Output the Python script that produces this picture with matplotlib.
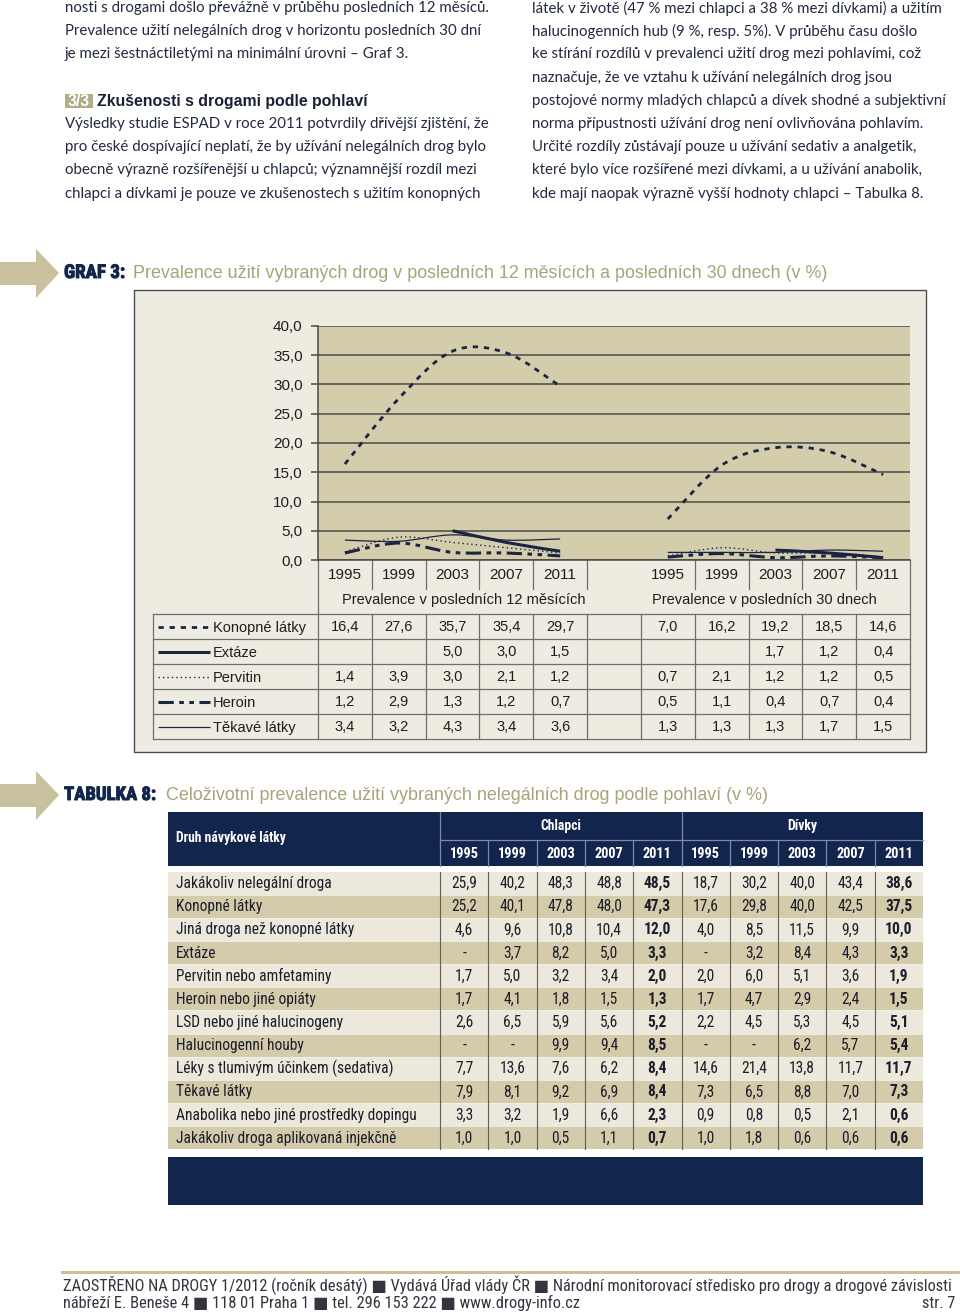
import numpy as np
import matplotlib
matplotlib.use('Agg')
import matplotlib.pyplot as plt
import matplotlib.patheffects as pe
from matplotlib.patches import Rectangle, Polygon, PathPatch
from matplotlib.path import Path
from matplotlib import font_manager
from matplotlib.ticker import FuncFormatter, FixedLocator

# ---------------- data: Graf 3 ----------------
years = ['1995', '1999', '2003', '2007', '2011']
period_labels = ['Prevalence v posledních 12 měsících', 'Prevalence v posledních 30 dnech']
drug_names = ['Konopné látky', 'Extáze', 'Pervitin', 'Heroin', 'Těkavé látky']
nan = np.nan
konopne_12m = [16.4, 27.6, 35.7, 35.4, 29.7]
extaze_12m = [nan, nan, 5.0, 3.0, 1.5]
pervitin_12m = [1.4, 3.9, 3.0, 2.1, 1.2]
heroin_12m = [1.2, 2.9, 1.3, 1.2, 0.7]
tekave_12m = [3.4, 3.2, 4.3, 3.4, 3.6]
konopne_30d = [7.0, 16.2, 19.2, 18.5, 14.6]
extaze_30d = [nan, nan, 1.7, 1.2, 0.4]
pervitin_30d = [0.7, 2.1, 1.2, 1.2, 0.5]
heroin_30d = [0.5, 1.1, 0.4, 0.7, 0.4]
tekave_30d = [1.3, 1.3, 1.3, 1.7, 1.5]
y_ticks = [0, 5, 10, 15, 20, 25, 30, 35, 40]

# ---------------- data: Tabulka 8 ----------------
t8_groups = ['Chlapci', 'Dívky']
t8_substances = ['Jakákoliv nelegální droga', 'Konopné látky', 'Jiná droga než konopné látky',
                 'Extáze', 'Pervitin nebo amfetaminy', 'Heroin nebo jiné opiáty',
                 'LSD nebo jiné halucinogeny', 'Halucinogenní houby',
                 'Léky s tlumivým účinkem (sedativa)', 'Těkavé látky',
                 'Anabolika nebo jiné prostředky dopingu', 'Jakákoliv droga aplikovaná injekčně']
t8_boys = [[25.9, 40.2, 48.3, 48.8, 48.5], [25.2, 40.1, 47.8, 48.0, 47.3],
           [4.6, 9.6, 10.8, 10.4, 12.0], [None, 3.7, 8.2, 5.0, 3.3],
           [1.7, 5.0, 3.2, 3.4, 2.0], [1.7, 4.1, 1.8, 1.5, 1.3],
           [2.6, 6.5, 5.9, 5.6, 5.2], [None, None, 9.9, 9.4, 8.5],
           [7.7, 13.6, 7.6, 6.2, 8.4], [7.9, 8.1, 9.2, 6.9, 8.4],
           [3.3, 3.2, 1.9, 6.6, 2.3], [1.0, 1.0, 0.5, 1.1, 0.7]]
t8_girls = [[18.7, 30.2, 40.0, 43.4, 38.6], [17.6, 29.8, 40.0, 42.5, 37.5],
            [4.0, 8.5, 11.5, 9.9, 10.0], [None, 3.2, 8.4, 4.3, 3.3],
            [2.0, 6.0, 5.1, 3.6, 1.9], [1.7, 4.7, 2.9, 2.4, 1.5],
            [2.2, 4.5, 5.3, 4.5, 5.1], [None, None, 6.2, 5.7, 5.4],
            [14.6, 21.4, 13.8, 11.7, 11.7], [7.3, 6.5, 8.8, 7.0, 7.3],
            [0.9, 0.8, 0.5, 2.1, 0.6], [1.0, 1.8, 0.6, 0.6, 0.6]]

left_text = ['nosti s drogami došlo převážně v průběhu posledních 12 měsíců.',
             'Prevalence užití nelegálních drog v horizontu posledních 30 dní',
             'je mezi šestnáctiletými na minimální úrovni – Graf 3.']
heading_tag = '3/3'
heading = 'Zkušenosti s drogami podle pohlaví'
left_text2 = ['Výsledky studie ESPAD v roce 2011 potvrdily dřívější zjištění, že',
              'pro české dospívající neplatí, že by užívání nelegálních drog bylo',
              'obecně výrazně rozšířenější u chlapců; významnější rozdíl mezi',
              'chlapci a dívkami je pouze ve zkušenostech s užitím konopných']
right_text = ['látek v životě (47 % mezi chlapci a 38 % mezi dívkami) a užitím',
              'halucinogenních hub (9 %, resp. 5%). V průběhu času došlo',
              'ke stírání rozdílů v prevalenci užití drog mezi pohlavími, což',
              'naznačuje, že ve vztahu k užívání nelegálních drog jsou',
              'postojové normy mladých chlapců a dívek shodné a subjektivní',
              'norma přípustnosti užívání drog není ovlivňována pohlavím.',
              'Určité rozdíly zůstávají pouze u užívání sedativ a analgetik,',
              'které bylo více rozšířené mezi dívkami, a u užívání anabolik,',
              'kde mají naopak výrazně vyšší hodnoty chlapci – Tabulka 8.']

# ---------------- fonts & colours ----------------
ttf = font_manager.fontManager.ttflist
names = {f.name for f in ttf}
BODY = 'Lato' if 'Lato' in names else 'DejaVu Sans'
SANS = 'Liberation Sans' if 'Liberation Sans' in names else 'DejaVu Sans'


def pick_cond():
    for nm in ['Liberation Sans Narrow', 'Roboto Condensed', 'Open Sans Condensed',
               'Noto Sans Condensed', 'DejaVu Sans Condensed']:
        if nm in names:
            return dict(family=nm)
    for nm in ['Noto Sans', 'DejaVu Sans', 'Open Sans', 'Roboto']:
        if any(f.name == nm and 'condensed' in str(f.stretch) for f in ttf):
            return dict(family=nm, fontstretch='condensed')
    return dict(family=SANS)


COND = pick_cond()

NAVY = '#12254c'
TAN = '#c9c09d'
OLIVE = '#a8a379'
TEXT = '#232a40'
FRAME_BG = '#eeebe1'
PLOT_BG = '#d4cdac'
ROW_LIGHT = '#ece8db'
ROW_TAN = '#d3cba9'
LINE_C = '#1b2444'

# ---------------- page ----------------
fig = plt.figure(figsize=(9.6, 13.15), dpi=100)
fig.patch.set_facecolor('white')
page = fig.add_axes([0, 0, 1, 1], zorder=0)
page.set_xlim(0, 960)
page.set_ylim(1315, 0)
page.axis('off')
R = fig.canvas.get_renderer()


def txt(x, y, s, size, width=None, **kw):
    kw.setdefault('va', 'center')
    t = page.text(x, y, s, fontsize=size, **kw)
    if width:
        w = t.get_window_extent(R).width
        t.set_fontsize(size * width / w)
    return t


def fit_size(s, width, **kw):
    t = page.text(0, 0, s, fontsize=10, **kw)
    w = t.get_window_extent(R).width
    t.remove()
    return 10 * width / w


# body paragraphs
bs = min(fit_size(left_text[0], 423, family=BODY), fit_size(right_text[0], 419, family=BODY))
for i, s in enumerate(left_text):
    txt(65, 8 + i * 23.2, s, bs, family=BODY, color=TEXT)
for i, s in enumerate(left_text2):
    txt(65, 124 + i * 23.2, s, bs, family=BODY, color=TEXT)
for i, s in enumerate(right_text):
    txt(532, 8 + i * 23.2, s, bs, family=BODY, color=TEXT)
page.add_patch(Rectangle((65, 94), 28, 14, fc='#b3ac88', ec='none'))
txt(79, 101.5, heading_tag, 10, width=22, family=SANS, fontweight='bold', color='white', ha='center')
txt(97, 101, heading, 11, width=273, family=SANS, fontweight='bold', color='#1a2036')


def arrow(yc):
    page.add_patch(Polygon([(0, yc - 11), (36, yc - 11), (36, yc - 24), (59, yc),
                            (36, yc + 25), (36, yc + 12), (0, yc + 12)],
                           closed=True, fc=TAN, ec='none'))


HEAVY_FX = [pe.withStroke(linewidth=0.7, foreground=NAVY)]

# ---------------- Graf 3 title ----------------
arrow(273)
txt(64, 273, 'GRAF 3:', 11, width=61, fontweight='bold', color=NAVY,
    path_effects=HEAVY_FX, **COND)
txt(133, 273, 'Prevalence užití vybraných drog v posledních 12 měsících a posledních 30 dnech (v %)',
    12, width=695, family=SANS, color=OLIVE)

# chart frame
page.add_patch(Rectangle((134, 290), 792, 462, fc=FRAME_BG, ec='#4d4d4d', lw=1.0))

# chart axes
ax = fig.add_axes([318 / 960, 1 - 560 / 1315, 592 / 960, 234 / 1315], zorder=2)
n = len(years)
pos12 = np.arange(n)
pos30 = np.arange(n) + n + 1
ncat = 2 * n + 1
ax.set_xlim(-0.5, ncat - 0.5)
ax.set_ylim(y_ticks[0], y_ticks[-1])
ax.set_facecolor(PLOT_BG)
ax.yaxis.set_major_locator(FixedLocator(y_ticks))
ax.yaxis.set_major_formatter(FuncFormatter(lambda v, p: f'{v:.1f}'.replace('.', ',')))
ax.grid(axis='y', color='#4a4a4a', lw=1.1)
ax.set_axisbelow(True)
for sp in ['top', 'right']:
    ax.spines[sp].set_visible(False)
for sp in ['left', 'bottom']:
    ax.spines[sp].set_color('#4a4a4a')
    ax.spines[sp].set_linewidth(1.1)
ax.tick_params(axis='y', length=5, width=1.1, color='#4a4a4a', pad=6, labelsize=11, labelcolor='#1e1e1e')
ax.set_xticks(list(pos12) + list(pos30))
ax.set_xticklabels(years + years)
ax.tick_params(axis='x', length=0, pad=6, labelsize=11, labelcolor='#1e1e1e')
for lab in ax.get_yticklabels() + ax.get_xticklabels():
    lab.set_family(SANS)

styles = {
    'Konopné látky': dict(lw=2.0, dashes=(1.9, 2.1)),
    'Extáze': dict(lw=2.2, dashes=None),
    'Pervitin': dict(lw=1.0, dashes=(1.0, 2.2)),
    'Heroin': dict(lw=2.2, dashes=(5.0, 1.8, 1.5, 1.8, 1.5, 1.8)),
    'Těkavé látky': dict(lw=0.9, dashes=None),
}
series12 = [konopne_12m, extaze_12m, pervitin_12m, heroin_12m, tekave_12m]
series30 = [konopne_30d, extaze_30d, pervitin_30d, heroin_30d, tekave_30d]


def smooth_path(xs, ys):
    pts = [np.array([x, y], float) for x, y in zip(xs, ys) if not np.isnan(y)]
    verts = [pts[0]]
    codes = [Path.MOVETO]
    for i in range(len(pts) - 1):
        p0 = pts[i - 1] if i > 0 else pts[i]
        p1, p2 = pts[i], pts[i + 1]
        p3 = pts[i + 2] if i + 2 < len(pts) else pts[i + 1]
        verts += [p1 + (p2 - p0) / 6, p2 - (p3 - p1) / 6, p2]
        codes += [Path.CURVE4] * 3
    return Path(verts, codes)


def ls_of(st):
    return '-' if st['dashes'] is None else (0, st['dashes'])


for name, s12, s30 in zip(drug_names, series12, series30):
    st = styles[name]
    for pos, vals in ((pos12, s12), (pos30, s30)):
        ax.add_patch(PathPatch(smooth_path(pos, np.array(vals, float)), fill=False,
                               ec=LINE_C, lw=st['lw'], ls=ls_of(st), capstyle='butt',
                               joinstyle='round'))


def cx(i):
    return ax.transData.transform((i, 0))[0]


def bx(k):
    return ax.transData.transform((k - 0.5, 0))[0]


GRID = '#6e6e6e'
# category separators under the axis
for k in list(range(1, n + 1)) + list(range(n + 2, ncat)):
    page.plot([bx(k), bx(k)], [560, 589], color=GRID, lw=0.9)
page.plot([bx(0), bx(0)], [560, 739], color=GRID, lw=0.9)
page.plot([bx(ncat), bx(ncat)], [560, 739], color=GRID, lw=0.9)
txt(464, 599.5, period_labels[0], 10.5, family=SANS, ha='center', color='#1e1e1e')
txt(764, 599.5, period_labels[1], 10.5, family=SANS, ha='center', color='#1e1e1e')

# data table
row_edges = [614 + 25 * r for r in range(len(drug_names) + 1)]
for ye in row_edges:
    page.plot([153, bx(ncat)], [ye, ye], color=GRID, lw=0.9)
page.plot([153, 153], [row_edges[0], row_edges[-1]], color=GRID, lw=0.9)
for k in range(1, ncat):
    page.plot([bx(k), bx(k)], [row_edges[0], row_edges[-1]], color=GRID, lw=0.9)


def fmt(v):
    if v is None or (isinstance(v, float) and np.isnan(v)):
        return ''
    return f'{v:.1f}'.replace('.', ',')


for r, (name, s12, s30) in enumerate(zip(drug_names, series12, series30)):
    yc = (row_edges[r] + row_edges[r + 1]) / 2 + 0.5
    st = styles[name]
    page.plot([158, 210], [yc, yc], color=LINE_C, lw=st['lw'], ls=ls_of(st),
              solid_capstyle='butt', dash_capstyle='butt')
    txt(213, yc + 1, name, 10.5, family=SANS, color='#1e1e1e')
    for pos, vals in ((pos12, s12), (pos30, s30)):
        for p, v in zip(pos, vals):
            txt(cx(p), yc, fmt(v), 10.5, family=SANS, ha='center', color='#1e1e1e')

# ---------------- Tabulka 8 ----------------
arrow(795)
txt(64, 795, 'TABULKA 8:', 11, width=92, fontweight='bold', color=NAVY,
    path_effects=HEAVY_FX, **COND)
txt(166, 795, 'Celoživotní prevalence užití vybraných nelegálních drog podle pohlaví (v %)',
    12, width=603, family=SANS, color=OLIVE)

TX0, TX1, LAB1 = 168, 923, 440
ncol = 2 * len(years)
cw = (TX1 - LAB1) / ncol
page.add_patch(Rectangle((TX0, 812), TX1 - TX0, 54, fc=NAVY, ec='none'))
HL = '#7d89a6'
page.plot([LAB1, TX1], [840, 840], color=HL, lw=0.9)
page.plot([LAB1, LAB1], [812, 866], color=HL, lw=0.9)
page.plot([LAB1 + 5 * cw, LAB1 + 5 * cw], [812, 866], color=HL, lw=0.9)
for k in range(1, ncol):
    if k != 5:
        page.plot([LAB1 + k * cw] * 2, [840, 866], color=HL, lw=0.9)
hs = min(10.0, fit_size('Druh návykové látky', 110, fontweight='bold', **COND))
txt(176, 838, 'Druh návykové látky', hs, fontweight='bold', color='white', **COND)
for g, grp in enumerate(t8_groups):
    txt(LAB1 + (g * 5 + 2.5) * cw, 826, grp, hs, fontweight='bold',
        color='white', ha='center', **COND)
for k in range(ncol):
    txt(LAB1 + (k + 0.5) * cw, 853.5, years[k % 5], hs * 1.05, fontweight='bold',
        color='white', ha='center', **COND)

RY0 = 871.5
RH = 23.15
ls_ = min(11.2, fit_size('Anabolika nebo jiné prostředky dopingu', 250, **COND))
for r, sub in enumerate(t8_substances):
    y0 = RY0 + r * RH
    page.add_patch(Rectangle((TX0, y0), TX1 - TX0, RH, fc=ROW_LIGHT if r % 2 == 0 else ROW_TAN,
                             ec='none'))
    yc = y0 + RH / 2 + 0.5
    txt(176, yc, sub, ls_, color='#1d1d2b', **COND)
    vals = list(t8_boys[r]) + list(t8_girls[r])
    for k, v in enumerate(vals):
        s = '-' if v is None else fmt(v)
        txt(LAB1 + (k + 0.5) * cw, yc, s, ls_, ha='center', color='#1d1d2b',
            fontweight='bold' if k % 5 == 4 else 'normal', **COND)
for r in range(1, len(t8_substances)):
    page.plot([TX0, TX1], [RY0 + r * RH] * 2, color='#f4f1ea', lw=0.6)
for k in range(ncol):
    page.plot([LAB1 + k * cw] * 2, [RY0, RY0 + len(t8_substances) * RH], color='#5e5e5e', lw=0.8)
page.add_patch(Rectangle((TX0, 1157), TX1 - TX0, 48, fc=NAVY, ec='none'))

# ---------------- footer ----------------
page.plot([62, 960], [1272, 1272], color=TAN, lw=2.2)
f1 = 'ZAOSTŘENO NA DROGY 1/2012 (ročník desátý) ■ Vydává Úřad vlády ČR ■ Národní monitorovací středisko pro drogy a drogové závislosti'
f2 = 'nábřeží E. Beneše 4 ■ 118 01 Praha 1 ■ tel. 296 153 222 ■ www.drogy-info.cz'
FFAM = [COND['family'], 'DejaVu Sans']
fkw = {k: v for k, v in COND.items() if k != 'family'}
fs = fit_size(f1, 892, family=FFAM, **fkw)
txt(63, 1285.5, f1, fs, family=FFAM, color='#34343e', **fkw)
txt(63, 1303, f2, fs, family=FFAM, color='#34343e', **fkw)
txt(955, 1303, 'str. 7', fs, family=FFAM, color='#34343e', ha='right', **fkw)

fig.savefig('out.png', dpi=100, facecolor='white')
